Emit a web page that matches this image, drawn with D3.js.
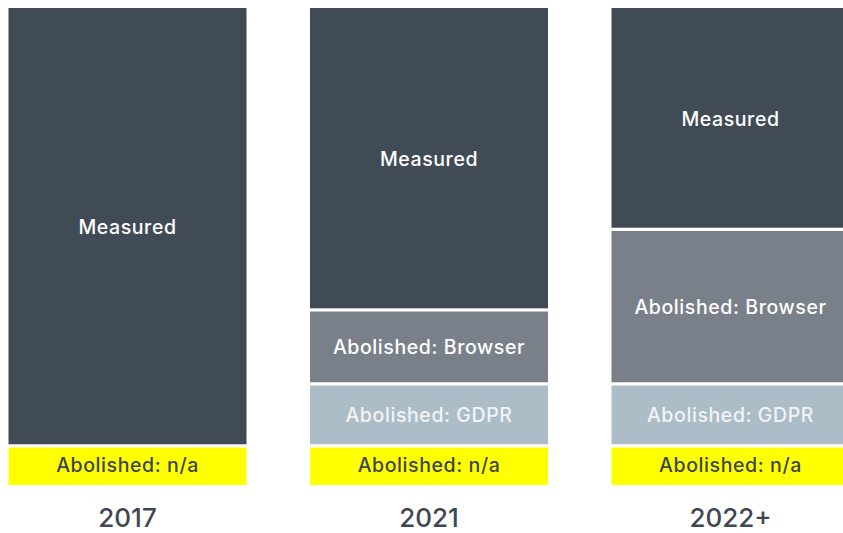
<!DOCTYPE html>
<html>
<head>
<meta charset="utf-8">
<script src="https://cdn.jsdelivr.net/npm/d3@7/dist/d3.min.js"></script>
<style>
html, body { margin: 0; padding: 0; background: #ffffff; overflow: hidden; }
svg { display: block; }
</style>
</head>
<body>
<svg id="chart" width="843" height="533"></svg>
<script>
// ---- data ----
const categories = ["2017", "2021", "2022+"];
const seriesKeys = ["Abolished: n/a", "Abolished: GDPR", "Abolished: Browser", "Measured"];
const abolishedNA = [8.2, 8.2, 8.2];
const abolishedGDPR = [0, 13, 13];
const abolishedBrowser = [0, 15.5, 32.4];
const measured = [91.8, 63.3, 46.4];

const rows = categories.map((c, i) => ({
  category: c,
  "Abolished: n/a": abolishedNA[i],
  "Abolished: GDPR": abolishedGDPR[i],
  "Abolished: Browser": abolishedBrowser[i],
  "Measured": measured[i]
}));

const fills = {
  "Abolished: n/a": "#ffff00",
  "Abolished: GDPR": "#adbdc7",
  "Abolished: Browser": "#7a8089",
  "Measured": "#414b56"
};
const textFills = {
  "Abolished: n/a": "#3d4550",
  "Abolished: GDPR": "#f1f4f6",
  "Abolished: Browser": "#ffffff",
  "Measured": "#ffffff"
};

const svg = d3.select("#chart");
const x = d3.scaleBand().domain(categories).range([8.5, 849.5]).paddingInner(0.2106).paddingOuter(0);
const y = d3.scaleLinear().domain([0, 100]).range([485, 8]);

const stacked = d3.stack().keys(seriesKeys)(rows);
const gap = 1.6;

const segs = [];
stacked.forEach(layer => {
  layer.forEach(d => {
    if (d[1] - d[0] <= 0) return;
    segs.push({ key: layer.key, cat: d.data.category, y0: d[0], y1: d[1] });
  });
});

const g = svg.append("g");
g.selectAll("rect").data(segs).join("rect")
  .attr("x", d => x(d.cat))
  .attr("width", x.bandwidth())
  .attr("y", d => y(d.y1) + (d.y1 >= 99.999 ? 0 : gap))
  .attr("height", d => {
    const top = y(d.y1) + (d.y1 >= 99.999 ? 0 : gap);
    const bot = y(d.y0) - (d.y0 <= 0.001 ? 0 : gap);
    return bot - top;
  })
  .attr("fill", d => fills[d.key]);

g.selectAll("text.seg").data(segs).join("text")
  .attr("class", "seg")
  .attr("x", d => x(d.cat) + x.bandwidth() / 2)
  .attr("y", d => (y(d.y0) + y(d.y1)) / 2)
  .attr("dy", "0.36em")
  .attr("text-anchor", "middle")
  .attr("font-family", "Inter, DejaVu Sans, sans-serif")
  .attr("font-weight", 500)
  .attr("font-size", 19.5)
  .attr("letter-spacing", 0.6)
  .attr("fill", d => textFills[d.key])
  .text(d => d.key);

// category axis labels
const xAxis = d3.axisBottom(x).tickSize(0).tickPadding(0);
const ax = svg.append("g").attr("transform", "translate(0,527)").call(xAxis);
ax.select(".domain").remove();
ax.selectAll("text")
  .attr("dy", 0)
  .attr("font-family", "Inter, DejaVu Sans, sans-serif")
  .attr("font-weight", 500)
  .attr("font-size", 26)
  .attr("fill", "#3f4852");
</script>
</body>
</html>
